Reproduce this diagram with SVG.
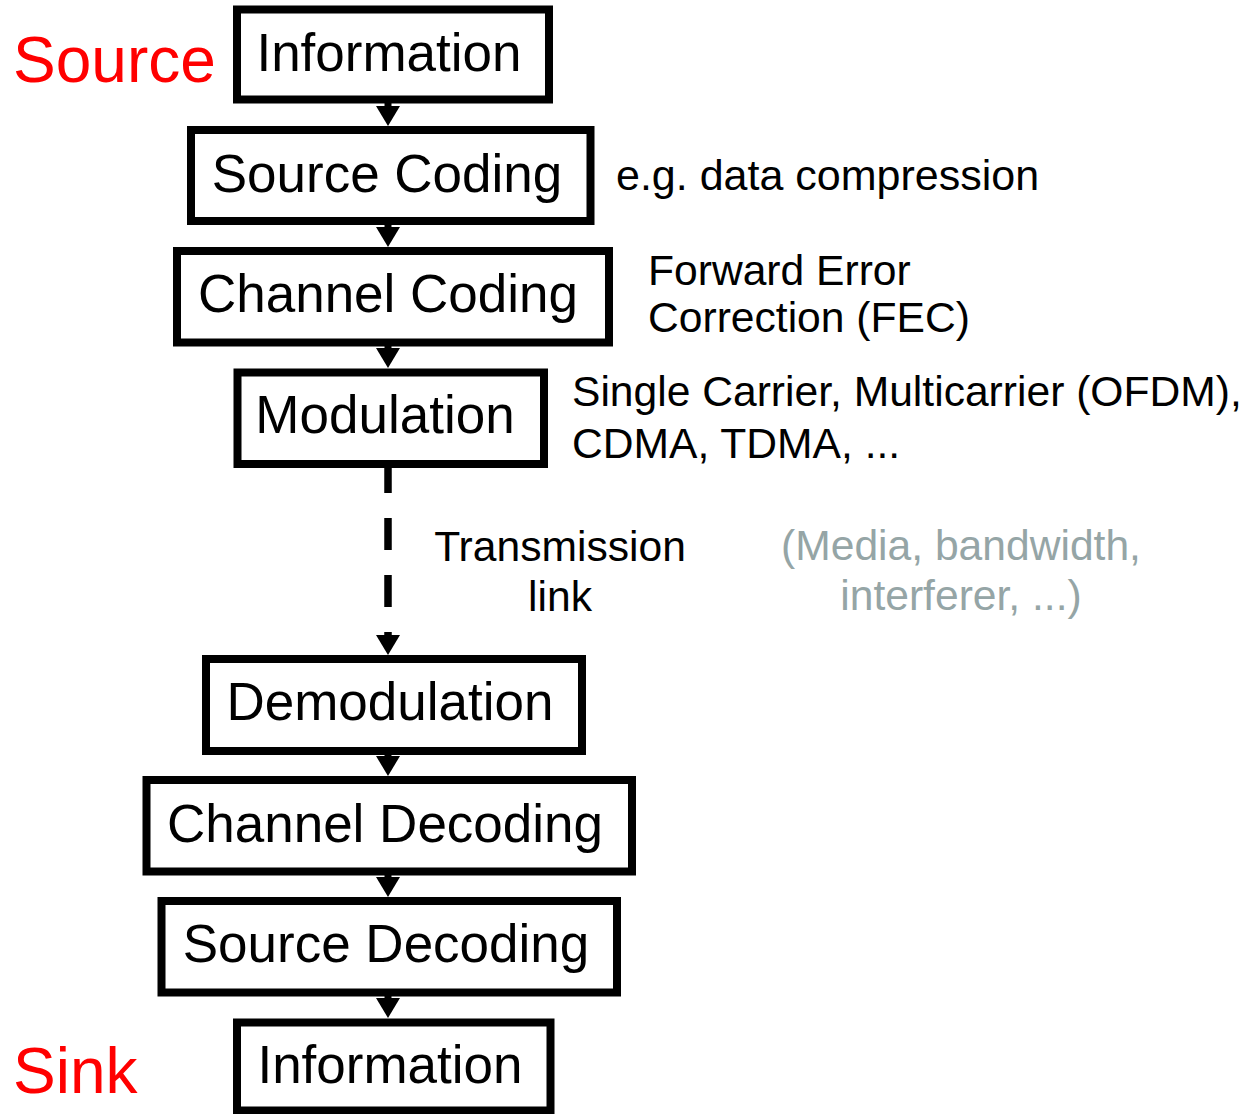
<svg xmlns="http://www.w3.org/2000/svg" width="1252" height="1114" viewBox="0 0 1252 1114">
<style>
.box{fill:#fff;stroke:#000;stroke-width:8}
.lbl{font-family:"Liberation Sans",Arial,sans-serif;font-size:53px;fill:#000;text-anchor:middle}
.note{font-family:"Liberation Sans",Arial,sans-serif;font-size:42.6px;fill:#000}
.gray{font-family:"Liberation Sans",Arial,sans-serif;font-size:42.6px;fill:#95a5a6;text-anchor:middle}
.red{font-family:"Liberation Sans",Arial,sans-serif;font-size:64px;fill:#ff0000}
.conn{stroke:#000;stroke-width:7;fill:none}
.dash{stroke:#000;stroke-width:7.5;fill:none;stroke-dasharray:32 25}
</style>
<defs>
<marker id="arr" viewBox="0 0 20 24" refX="0" refY="12" markerWidth="20" markerHeight="24" markerUnits="userSpaceOnUse" orient="auto">
<path d="M0,0 L20,12 L0,24 Z" fill="#000"/>
</marker>
</defs>
<rect width="1252" height="1114" fill="#fff"/>
<g id="connectors">
<line class="conn" x1="388" y1="101" x2="388" y2="106" marker-end="url(#arr)"/>
<line class="conn" x1="388" y1="222" x2="388" y2="227" marker-end="url(#arr)"/>
<line class="conn" x1="388" y1="343" x2="388" y2="348" marker-end="url(#arr)"/>
<line class="dash" x1="388" y1="461" x2="388" y2="635" marker-end="url(#arr)"/>
<line class="conn" x1="388" y1="751" x2="388" y2="756" marker-end="url(#arr)"/>
<line class="conn" x1="388" y1="872" x2="388" y2="877" marker-end="url(#arr)"/>
<line class="conn" x1="388" y1="993" x2="388" y2="998" marker-end="url(#arr)"/>
</g>
<g id="n-info-src">
<rect class="box" x="237" y="9.5" width="312" height="90"/>
<text class="lbl" x="389" y="71">Information</text>
</g>
<g id="n-source-coding">
<rect class="box" x="191" y="130" width="399.5" height="91"/>
<text class="lbl" x="387" y="191.7">Source Coding</text>
</g>
<g id="n-channel-coding">
<rect class="box" x="177" y="251" width="432" height="91.5"/>
<text class="lbl" x="388" y="311.7">Channel Coding</text>
</g>
<g id="n-modulation">
<rect class="box" x="237.5" y="372.5" width="306.5" height="91.5"/>
<text class="lbl" x="385" y="433.3">Modulation</text>
</g>
<g id="n-demodulation">
<rect class="box" x="206" y="659" width="376" height="92"/>
<text class="lbl" x="390" y="720">Demodulation</text>
</g>
<g id="n-channel-decoding">
<rect class="box" x="146.5" y="780" width="485.5" height="91.5"/>
<text class="lbl" x="385" y="841.7">Channel Decoding</text>
</g>
<g id="n-source-decoding">
<rect class="box" x="161.5" y="901" width="455.5" height="91.5"/>
<text class="lbl" x="386" y="961.7">Source Decoding</text>
</g>
<g id="n-info-sink">
<rect class="box" x="237" y="1022.5" width="313.5" height="88"/>
<text class="lbl" x="390" y="1083.3">Information</text>
</g>
<g id="annotations">
<text class="red" x="13" y="82">Source</text>
<text class="red" x="13" y="1093">Sink</text>
<text class="note" x="616" y="190" style="font-size:43px">e.g. data compression</text>
<text class="note" x="648" y="285">Forward Error</text>
<text class="note" x="648" y="332">Correction (FEC)</text>
<text class="note" x="572" y="406">Single Carrier, Multicarrier (OFDM),</text>
<text class="note" x="572" y="458">CDMA, TDMA, ...</text>
<text class="note" x="560" y="561" text-anchor="middle">Transmission</text>
<text class="note" x="560" y="611" text-anchor="middle">link</text>
<text class="gray" x="961" y="560">(Media, bandwidth,</text>
<text class="gray" x="961" y="610">interferer, ...)</text>
</g>
</svg>
